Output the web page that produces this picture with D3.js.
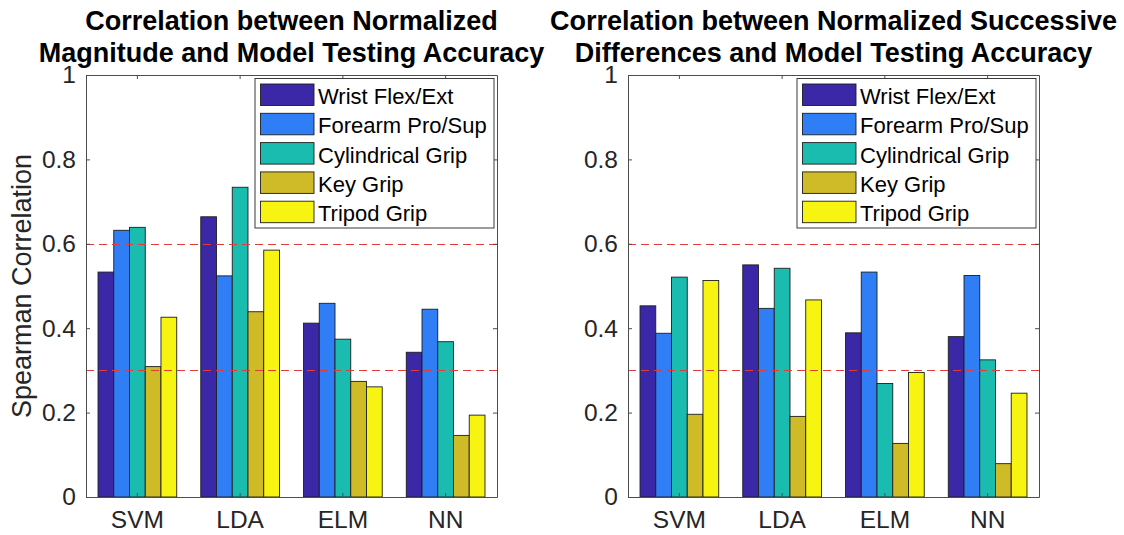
<!DOCTYPE html>
<html>
<head>
<meta charset="utf-8">
<script src="https://cdn.jsdelivr.net/npm/d3@7"></script>
<style>
  html, body { margin: 0; padding: 0; background: #fff; }
  svg { display: block; }
</style>
</head>
<body>
<svg id="chart" width="1124" height="535"></svg>
<script>
// Classifiers on the x axis
const categories = ["SVM", "LDA", "ELM", "NN"];

// Movement classes (one bar per class in each group)
const seriesNames = ["Wrist Flex/Ext", "Forearm Pro/Sup", "Cylindrical Grip", "Key Grip", "Tripod Grip"];
const seriesColors = ["#3b28a7", "#2f7ef6", "#1bbcb0", "#cfba27", "#f7f412"];

// Spearman correlation: normalized magnitude vs. testing accuracy
const magWristFlexExt    = [0.533, 0.664, 0.412, 0.343];
const magForearmProSup   = [0.632, 0.524, 0.459, 0.445];
const magCylindricalGrip = [0.639, 0.734, 0.374, 0.368];
const magKeyGrip         = [0.309, 0.439, 0.274, 0.146];
const magTripodGrip      = [0.426, 0.585, 0.261, 0.194];

// Spearman correlation: normalized successive differences vs. testing accuracy
const diffWristFlexExt    = [0.453, 0.550, 0.389, 0.380];
const diffForearmProSup   = [0.388, 0.447, 0.533, 0.525];
const diffCylindricalGrip = [0.521, 0.542, 0.269, 0.325];
const diffKeyGrip         = [0.196, 0.191, 0.127, 0.079];
const diffTripodGrip      = [0.513, 0.467, 0.295, 0.246];

// Reference levels (dashed red lines)
const thresholds = [0.3, 0.6];

// Y axis ticks
const yTicks = [0, 0.2, 0.4, 0.6, 0.8, 1];

const panels = [
  {
    titleLines: ["Correlation between Normalized", "Magnitude and Model Testing Accuracy"],
    series: [magWristFlexExt, magForearmProSup, magCylindricalGrip, magKeyGrip, magTripodGrip],
    x0: 86, x1: 497, ylabel: "Spearman Correlation"
  },
  {
    titleLines: ["Correlation between Normalized Successive", "Differences and Model Testing Accuracy"],
    series: [diffWristFlexExt, diffForearmProSup, diffCylindricalGrip, diffKeyGrip, diffTripodGrip],
    x0: 628, x1: 1039, ylabel: null
  }
];

const FONT = "'Liberation Sans', Arial, Helvetica, sans-serif";
const plotTop = 75, plotBottom = 497;
const axisColor = "#4d4d4d";
const textColor = "#262626";
const tickLen = 4;

const svg = d3.select("#chart");
svg.append("rect").attr("width", 1124).attr("height", 535).attr("fill", "#fff");

const y = d3.scaleLinear().domain([0, 1]).range([plotBottom, plotTop]);

panels.forEach(p => {
  const g = svg.append("g");

  const x = d3.scaleBand().domain(categories).range([p.x0, p.x1]).paddingInner(0).paddingOuter(0);
  const groupW = x.bandwidth() * 0.766;
  const xs = d3.scaleBand().domain(d3.range(seriesNames.length)).range([-groupW / 2, groupW / 2]).padding(0);

  // bars
  p.series.forEach((vals, si) => {
    g.append("g").selectAll("rect")
      .data(vals)
      .join("rect")
      .attr("x", (d, i) => x(categories[i]) + x.bandwidth() / 2 + xs(si))
      .attr("y", d => y(d))
      .attr("width", xs.bandwidth())
      .attr("height", d => y(0) - y(d))
      .attr("fill", seriesColors[si])
      .attr("stroke", "#1e1e1e")
      .attr("stroke-width", 0.9);
  });

  // dashed threshold lines (snapped to the pixel grid so they stay crisp)
  g.append("g").selectAll("line")
    .data(thresholds)
    .join("line")
    .attr("x1", p.x0).attr("x2", p.x1)
    .attr("y1", d => Math.round(y(d)) + 0.5).attr("y2", d => Math.round(y(d)) + 0.5)
    .attr("stroke", "#e03c3c")
    .attr("stroke-width", 1)
    .attr("stroke-dasharray", "8,5");

  // axes (ticks inward, box on)
  const left = g.append("g").attr("transform", `translate(${p.x0},0)`)
    .call(d3.axisLeft(y).tickValues(yTicks).tickFormat(d3.format("~g")).tickSizeInner(-tickLen).tickSizeOuter(0).tickPadding(10));
  const right = g.append("g").attr("transform", `translate(${p.x1},0)`)
    .call(d3.axisRight(y).tickValues(yTicks).tickFormat("").tickSizeInner(-tickLen).tickSizeOuter(0));
  const bot = g.append("g").attr("transform", `translate(0,${plotBottom})`)
    .call(d3.axisBottom(x).tickSizeInner(-tickLen).tickSizeOuter(0).tickPadding(14));
  const tp = g.append("g").attr("transform", `translate(0,${plotTop})`)
    .call(d3.axisTop(x).tickFormat("").tickSizeInner(-tickLen).tickSizeOuter(0));

  [left, right, bot, tp].forEach(a => {
    a.select(".domain").attr("stroke", axisColor).attr("stroke-width", 1);
    a.selectAll(".tick line").attr("stroke", axisColor).attr("stroke-width", 1);
    a.selectAll("text").attr("font-family", FONT).attr("font-size", 24.5).attr("fill", textColor);
  });
  bot.selectAll("text").attr("dy", "0.71em");

  // legend
  const lg = g.append("g").attr("transform", `translate(${p.x1 - 242},78.5)`);
  lg.append("rect").attr("x", 0).attr("y", 0).attr("width", 239).attr("height", 149.5)
    .attr("fill", "#fff").attr("stroke", "#3a3a3a").attr("stroke-width", 1);
  const rows = lg.selectAll("g.row").data(seriesNames).join("g").attr("class", "row")
    .attr("transform", (d, i) => `translate(0,${5.5 + i * 29.3})`);
  rows.append("rect").attr("x", 5.5).attr("y", 0).attr("width", 53.5).attr("height", 21.5)
    .attr("fill", (d, i) => seriesColors[i]).attr("stroke", "#1e1e1e").attr("stroke-width", 0.9);
  rows.append("text").attr("x", 63).attr("y", 20)
    .attr("font-family", FONT).attr("font-size", 22).attr("fill", "#000")
    .text(d => d);

  // title
  const cx = (p.x0 + p.x1) / 2;
  g.append("text").attr("x", cx).attr("y", 0)
    .attr("text-anchor", "middle").attr("font-family", FONT).attr("font-weight", "bold")
    .attr("font-size", 27).attr("fill", "#000")
    .selectAll("tspan").data(p.titleLines).join("tspan")
    .attr("x", cx).attr("y", (d, i) => 30 + i * 32)
    .text(d => d);

  // y label
  if (p.ylabel) {
    g.append("text")
      .attr("transform", `translate(31,${(plotTop + plotBottom) / 2}) rotate(-90)`)
      .attr("text-anchor", "middle")
      .attr("font-family", FONT).attr("font-size", 27).attr("fill", textColor)
      .text(p.ylabel);
  }
});
</script>
</body>
</html>
